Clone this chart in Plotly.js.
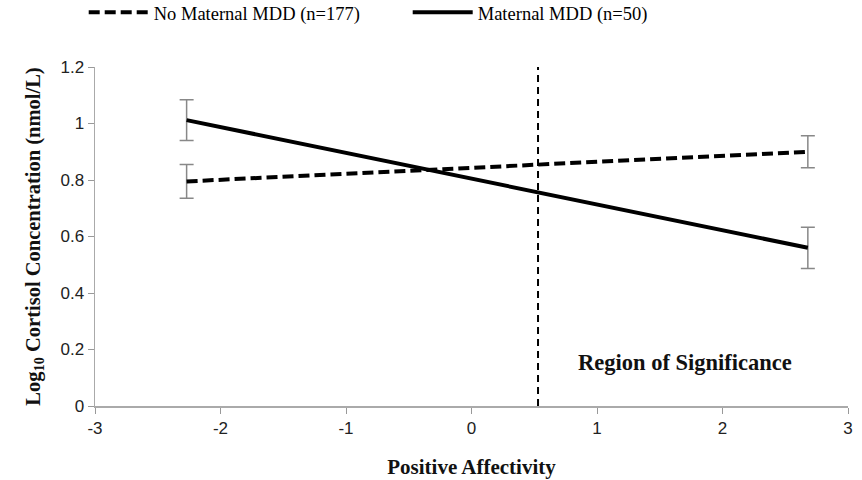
<!DOCTYPE html>
<html><head><meta charset="utf-8">
<script src="https://cdn.plot.ly/plotly-3.0.1.min.js"></script>
<style>body{margin:0;background:#fff}#c{width:862px;height:480px}</style>
</head><body><div id="c"></div>
<script>
const xPoints = [-2.27, 2.68];
const noMddY = [0.795, 0.90];
const noMddErr = [0.06, 0.057];
const mddY = [1.012, 0.56];
const mddErr = [0.072, 0.073];
const seriesNames = ["No Maternal MDD (n=177)", "Maternal MDD (n=50)"];
const regionX = 0.53;
const regionLabel = "Region of Significance";
const xTicks = [-3, -2, -1, 0, 1, 2, 3];
const xTickText = ['-3', '-2', '-1', '0', '1', '2', '3'];
const yTicks = [0, 0.2, 0.4, 0.6, 0.8, 1, 1.2];
const yTickText = ['0', '0.2', '0.4', '0.6', '0.8', '1', '1.2'];

const errStyle = {type: 'data', visible: true, color: '#888', thickness: 1.5, width: 7};
const traces = [
  {x: xPoints, y: noMddY, name: seriesNames[0], mode: 'lines', type: 'scatter',
   line: {color: '#000', width: 4, dash: '11px,5px'},
   error_y: Object.assign({array: noMddErr}, errStyle)},
  {x: xPoints, y: mddY, name: seriesNames[1], mode: 'lines', type: 'scatter',
   line: {color: '#000', width: 4},
   error_y: Object.assign({array: mddErr}, errStyle)},
  {x: [regionX, regionX], y: [0, 1.2], mode: 'lines', type: 'scatter', showlegend: false,
   line: {color: '#000', width: 2, dash: '7px,5px'}, hoverinfo: 'skip'}
];
const layout = {
  width: 862, height: 480,
  margin: {l: 95, r: 14, t: 67, b: 74, autoexpand: false},
  paper_bgcolor: '#fff', plot_bgcolor: '#fff',
  showlegend: true,
  legend: {orientation: 'h', x: -0.015, xanchor: 'left', y: 1.16, yanchor: 'middle',
    font: {family: 'Liberation Serif, serif', size: 18.5, color: '#000'},
    entrywidth: 249, entrywidthmode: 'pixels', itemwidth: 60, tracegroupgap: 0},
  xaxis: {range: [-3, 3], tickvals: xTicks, ticktext: xTickText, ticks: 'outside', ticklen: 6, tickcolor: '#999',
    showgrid: false, zeroline: false, showline: true, linecolor: '#aaa', linewidth: 1.5,
    tickfont: {family: 'Liberation Sans, Arial, sans-serif', size: 17, color: '#222'},
    title: {text: '<b>Positive Affectivity</b>', standoff: 22,
      font: {family: 'Liberation Serif, serif', size: 21, color: '#111'}}},
  yaxis: {range: [0, 1.2], tickvals: yTicks, ticktext: yTickText,
    ticks: 'outside', ticklen: 6, tickcolor: '#999',
    showgrid: false, zeroline: false, showline: true, linecolor: '#aaa', linewidth: 1.5,
    tickfont: {family: 'Liberation Sans, Arial, sans-serif', size: 17, color: '#222'},
    title: {text: '<b>Log<sub>10</sub> Cortisol Concentration (nmol/L)</b>', standoff: 14,
      font: {family: 'Liberation Serif, serif', size: 20.5, color: '#111'}}},
  annotations: [{x: 1.7, y: 0.155, xref: 'x', yref: 'y', text: '<b>' + regionLabel + '</b>',
    showarrow: false, font: {family: 'Liberation Serif, serif', size: 22.5, color: '#111'}}]
};
Plotly.newPlot('c', traces, layout, {displayModeBar: false, staticPlot: true});
</script></body></html>
